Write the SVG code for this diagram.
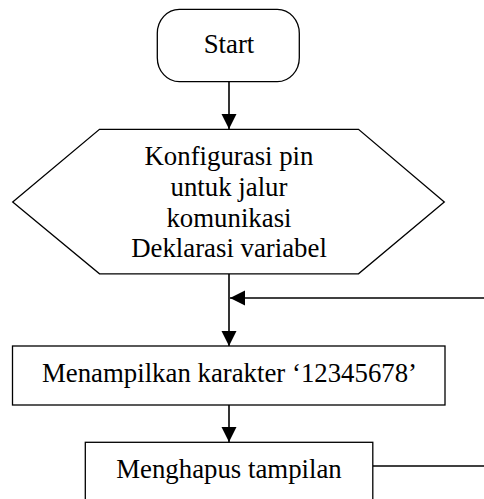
<svg xmlns="http://www.w3.org/2000/svg" width="484" height="499" viewBox="0 0 484 499">
<defs>
<marker id="ah" markerUnits="userSpaceOnUse" markerWidth="16" markerHeight="16" viewBox="0 0 16 16" refX="15" refY="8" orient="auto">
<path d="M0,0.5 L15,8 L0,15.5 Z" fill="#000"/>
</marker>
<style>
.shape{fill:#fff;stroke:#000;stroke-width:1.3}
.conn{fill:none;stroke:#000;stroke-width:1.6}
.t{font-family:"Liberation Serif","Times New Roman",serif;font-size:26.8px;fill:#000;text-anchor:middle}
</style>
</defs>
<rect width="484" height="499" fill="#fff"/>
<g id="connectors">
<line class="conn" x1="229" y1="82" x2="229" y2="129" marker-end="url(#ah)"/>
<line class="conn" x1="229" y1="274" x2="229" y2="346" marker-end="url(#ah)"/>
<line class="conn" x1="484" y1="298" x2="230" y2="298" marker-end="url(#ah)"/>
<line class="conn" x1="229" y1="405" x2="229" y2="442" marker-end="url(#ah)"/>
<line class="conn" x1="373" y1="466" x2="484" y2="466"/>
</g>
<g id="start">
<rect class="shape" x="157.3" y="9.3" width="142" height="72.4" rx="22" ry="24"/>
<text class="t" x="229" y="53">Start</text>
</g>
<g id="init">
<polygon class="shape" points="99.5,129.3 358.5,129.3 444.3,202 358.5,273.8 99.5,273.8 12.7,202"/>
<text class="t" x="229" y="165">Konfigurasi pin</text>
<text class="t" x="229" y="196">untuk jalur</text>
<text class="t" x="229" y="227">komunikasi</text>
<text class="t" x="229" y="257">Deklarasi variabel</text>
</g>
<g id="show">
<rect class="shape" x="12.5" y="346" width="432.5" height="59"/>
<text class="t" x="229.5" y="382">Menampilkan karakter ‘12345678’</text>
</g>
<g id="clear">
<rect class="shape" x="85.3" y="442.3" width="287.5" height="70"/>
<text class="t" x="229" y="477.5">Menghapus tampilan</text>
</g>
</svg>
